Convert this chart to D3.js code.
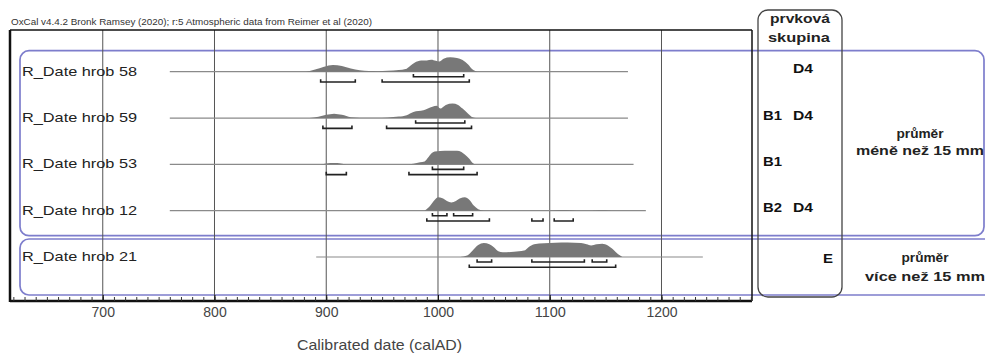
<!DOCTYPE html>
<html>
<head>
<meta charset="utf-8">
<script src="https://cdn.jsdelivr.net/npm/d3@7"></script>
<style>
  body { margin: 0; background: #fff; }
  svg { display: block; }
  text { font-family: "Liberation Sans", Arial, Helvetica, sans-serif; }
</style>
</head>
<body>
<svg id="chart" width="985" height="354"></svg>
<script>
// ---- data ----
const title = "OxCal v4.4.2 Bronk Ramsey (2020); r:5 Atmospheric data from Reimer et al (2020)";
const axisLabel = "Calibrated date (calAD)";
const majorTicks = [700, 800, 900, 1000, 1100, 1200];
const minorTicks = d3.range(620, 1281, 10);

const rowNames = ["R_Date hrob 58", "R_Date hrob 59", "R_Date hrob 53", "R_Date hrob 12", "R_Date hrob 21"];
// calibration span drawn as the thin baseline of each row (calAD)
const spanStart = [760, 760, 760, 760, 891];
const spanEnd   = [1170, 1170, 1175, 1186, 1237];

// posterior probability, relative to the highest peak: [year calAD, density]
const dens58 = [[882,0],[890,0.15],[898,0.35],[906,0.47],[914,0.4],[922,0.22],[930,0.1],[938,0.04],[946,0.03],[955,0.06],[965,0.11],[971,0.18],[975,0.4],[979,0.62],[985,0.77],[990,0.78],[994,0.82],[998,0.75],[1001,0.7],[1005,0.9],[1011,1.0],[1017,0.95],[1022,0.8],[1027,0.5],[1031,0.15],[1035,0]];
const dens59 = [[885,0],[893,0.08],[900,0.22],[907,0.3],[914,0.22],[922,0.05],[930,0.02],[945,0.02],[955,0.04],[965,0.1],[972,0.2],[978,0.42],[987,0.53],[995,0.77],[999,0.84],[1002,0.65],[1007,0.9],[1013,1.0],[1018,0.9],[1022,0.65],[1027,0.3],[1031,0.05],[1034,0]];
const dens53 = [[895,0],[900,0.06],[907,0.09],[913,0.06],[918,0],[970,0],[978,0.05],[984,0.15],[988,0.2],[991,0.45],[994,0.75],[997,0.88],[1002,0.92],[1010,0.94],[1017,0.93],[1021,0.86],[1024,0.68],[1028,0.38],[1031,0.1],[1034,0]];
const dens12 = [[988,0],[992,0.25],[996,0.65],[1000,0.93],[1004,0.85],[1008,0.66],[1012,0.56],[1016,0.66],[1020,0.85],[1024,0.93],[1028,0.75],[1032,0.35],[1036,0.1],[1041,0],[1100,0],[1106,0.03],[1112,0.04],[1118,0.03],[1124,0],[1138,0],[1144,0.03],[1150,0.03],[1155,0]];
const dens21 = [[1020,0],[1026,0.1],[1031,0.45],[1036,0.82],[1041,0.96],[1046,0.88],[1050,0.68],[1054,0.4],[1058,0.32],[1068,0.36],[1077,0.44],[1081,0.68],[1086,0.88],[1095,0.95],[1105,0.98],[1116,1.0],[1128,0.96],[1133,0.88],[1137,0.8],[1142,0.88],[1147,0.92],[1152,0.8],[1157,0.5],[1161,0.2],[1165,0]];
const densities = [dens58, dens59, dens53, dens12, dens21];

// highest posterior density ranges (calAD)
const hpd68 = [
  [[978, 1023]],
  [[980, 1024]],
  [[995, 1023]],
  [[995, 1008], [1014, 1031]],
  [[1035, 1048], [1084, 1131], [1138, 1151]]
];
const hpd95 = [
  [[895, 926], [950, 1028]],
  [[897, 923], [954, 1030]],
  [[900, 918], [974, 1035]],
  [[990, 1046], [1084, 1094], [1104, 1121]],
  [[1028, 1159]]
];

// element groups per grave
const colB = ["", "B1", "B1", "B2", ""];
const colD = ["D4", "D4", "", "D4", ""];
const colE = ["", "", "", "", "E"];
const groupHeader = ["prvková", "skupina"];

// diameter classes: first row, last row, label lines
const sizeGroups = [
  { first: 0, last: 3, lines: ["průměr", "méně než 15 mm"] },
  { first: 4, last: 4, lines: ["průměr", "více než 15 mm"] }
];

// ---- layout ----
const svg = d3.select("#chart");
const frame = { left: 10, right: 752, top: 30, bottom: 301 };

const x = d3.scaleLinear().domain([617, 1281]).range([frame.left, frame.right]);
const y = d3.scalePoint().domain(rowNames).range([71.7, 257]);
const h = d3.scaleLinear().domain([0, 1]).range([0, 14.5]);

function stretchedText(g, str, attrs, width) {
  const t = g.append("text").text(str);
  Object.entries(attrs).forEach(([k, v]) => t.attr(k, v));
  if (width) t.attr("textLength", width).attr("lengthAdjust", "spacingAndGlyphs");
  return t;
}

// diameter class boxes
const boxPad = [{ top: 21, bottom: 25 }, { top: 18, bottom: 38 }];
const boxes = svg.append("g");
sizeGroups.forEach((gr, i) => {
  const top = y(rowNames[gr.first]) - boxPad[i].top;
  const bottom = y(rowNames[gr.last]) + boxPad[i].bottom;
  boxes.append("rect")
    .attr("x", 20).attr("y", top)
    .attr("width", i === 0 ? 964 : 990).attr("height", bottom - top)
    .attr("rx", 9).attr("ry", 9)
    .attr("fill", "none")
    .attr("stroke", "#7d7dcc").attr("stroke-width", 1.7);
});

// vertical grid
svg.append("g").selectAll("line").data(majorTicks).join("line")
  .attr("x1", d => x(d)).attr("x2", d => x(d))
  .attr("y1", frame.top).attr("y2", frame.bottom)
  .attr("stroke", "#555").attr("stroke-width", 1);

// title
stretchedText(svg, title, { x: 11, y: 25, "font-size": 9.3, fill: "#333" }, 361);

// rows
const area = d3.area()
  .x(d => x(d[0])).y0(0).y1(d => -h(d[1]))
  .curve(d3.curveMonotoneX);

rowNames.forEach((name, i) => {
  const g = svg.append("g").attr("transform", `translate(0,${y(name)})`);
  stretchedText(g, name, { x: 22, y: 4, "font-size": 13.5, fill: "#222" }, 115);
  g.append("line")
    .attr("x1", x(spanStart[i])).attr("x2", x(spanEnd[i]))
    .attr("stroke", "#8a8a8a").attr("stroke-width", 1.2);
  g.append("path").datum(densities[i])
    .attr("d", area).attr("fill", "#787878");
  const bracket = (r, off) => `M${x(r[0])},${off - 2.8}V${off}H${x(r[1])}V${off - 2.8}`;
  g.selectAll(".b68").data(hpd68[i]).join("path")
    .attr("d", r => bracket(r, 5)).attr("fill", "none")
    .attr("stroke", "#222").attr("stroke-width", 1.6);
  g.selectAll(".b95").data(hpd95[i]).join("path")
    .attr("d", r => bracket(r, 10.3)).attr("fill", "none")
    .attr("stroke", "#222").attr("stroke-width", 1.6);
});

// plot frame
const fr = svg.append("g").attr("stroke", "#111").attr("fill", "none");
fr.append("line").attr("x1", frame.left).attr("x2", frame.right).attr("y1", frame.top).attr("y2", frame.top).attr("stroke-width", 1.5);
fr.append("line").attr("x1", frame.right).attr("x2", frame.right).attr("y1", frame.top).attr("y2", frame.bottom).attr("stroke-width", 1.5);
fr.append("line").attr("x1", frame.left).attr("x2", frame.left).attr("y1", frame.top).attr("y2", frame.bottom + 1).attr("stroke-width", 2.5);
fr.append("line").attr("x1", frame.left).attr("x2", frame.right).attr("y1", frame.bottom).attr("y2", frame.bottom).attr("stroke-width", 2.5);

// axis: minor ticks pointing up, major labels below
const minorAxis = svg.append("g").attr("transform", `translate(0,${frame.bottom})`)
  .call(d3.axisBottom(x).tickValues(minorTicks).tickSize(-4).tickFormat(""));
minorAxis.select(".domain").remove();
minorAxis.selectAll("line").attr("stroke", "#333");

const majorAxis = svg.append("g").attr("transform", `translate(0,${frame.bottom})`)
  .call(d3.axisBottom(x).tickValues(majorTicks).tickSize(3).tickFormat(d3.format("d")));
majorAxis.select(".domain").remove();
majorAxis.selectAll("line").attr("stroke", "#111").attr("y1", -6).attr("y2", 1);
majorAxis.selectAll("text")
  .attr("dy", null).attr("y", 16)
  .attr("font-size", 15).attr("fill", "#444")
  .attr("font-family", "'Liberation Sans', Arial, sans-serif")
  .attr("textLength", d => String(d).length * 7.8)
  .attr("lengthAdjust", "spacingAndGlyphs");

stretchedText(svg, axisLabel, { x: 297, y: 350, "font-size": 15, fill: "#444" }, 165);

// element group column
svg.append("rect")
  .attr("x", 758).attr("y", 10).attr("width", 84).attr("height", 287)
  .attr("rx", 10).attr("ry", 10)
  .attr("fill", "none").attr("stroke", "#444").attr("stroke-width", 1.3);
stretchedText(svg, groupHeader[0], { x: 800, y: 23, "font-size": 13.5, "font-weight": "bold", "text-anchor": "middle", fill: "#222" }, 60);
stretchedText(svg, groupHeader[1], { x: 799, y: 42, "font-size": 13.5, "font-weight": "bold", "text-anchor": "middle", fill: "#222" }, 62);

const letters = svg.append("g").attr("font-size", 13).attr("font-weight", "bold").attr("fill", "#111");
rowNames.forEach((name, i) => {
  const yy = y(name) + 1.5;
  if (colB[i]) stretchedText(letters, colB[i], { x: 763, y: yy }, 19);
  if (colD[i]) stretchedText(letters, colD[i], { x: 793, y: yy }, 20);
  if (colE[i]) stretchedText(letters, colE[i], { x: 823, y: yy + 4 }, 10);
});

// diameter class labels
const sizeLabelY = [[137.5, 155], [262, 281]];
const sizeLabelW = [[47, 128], [47, 120]];
const sizeLabelX = [920, 925];
sizeGroups.forEach((gr, i) => {
  gr.lines.forEach((ln, j) => {
    stretchedText(svg, ln, {
      x: sizeLabelX[i], y: sizeLabelY[i][j], "font-size": 13.5, "font-weight": "bold",
      "text-anchor": "middle", fill: "#222"
    }, sizeLabelW[i][j]);
  });
});
</script>
</body>
</html>
